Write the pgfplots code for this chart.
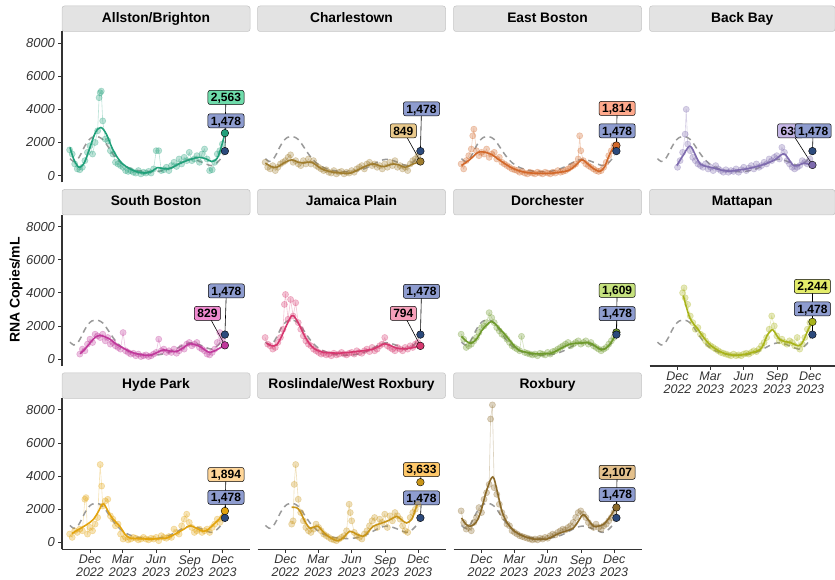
\documentclass[border=0pt]{standalone}
\usepackage{fontspec}
\setmainfont{Liberation Sans}
\usepackage{pgfplots}
\pgfplotsset{compat=1.18}

\definecolor{cAB}{HTML}{21A07A}\definecolor{lAB}{HTML}{6EDBAA}
\definecolor{cCH}{HTML}{A07D2E}\definecolor{lCH}{HTML}{E9C98B}
\definecolor{cEB}{HTML}{D2682A}\definecolor{lEB}{HTML}{FFA98C}
\definecolor{cBB}{HTML}{7E6BAE}\definecolor{lBB}{HTML}{C5B6E6}
\definecolor{cSB}{HTML}{C0399B}\definecolor{lSB}{HTML}{F08AD0}
\definecolor{cJP}{HTML}{D6386F}\definecolor{lJP}{HTML}{F6A0BA}
\definecolor{cDO}{HTML}{6E9A2C}\definecolor{lDO}{HTML}{C6E27E}
\definecolor{cMA}{HTML}{A8B31A}\definecolor{lMA}{HTML}{E3EC6A}
\definecolor{cHP}{HTML}{E2A30D}\definecolor{lHP}{HTML}{FFD699}
\definecolor{cRW}{HTML}{C99518}\definecolor{lRW}{HTML}{FFC869}
\definecolor{cRX}{HTML}{8B6A2A}\definecolor{lRX}{HTML}{E3C08C}
\definecolor{navy}{HTML}{2C4A7C}\definecolor{lnavy}{HTML}{8E9CCF}
\definecolor{dashgray}{HTML}{9A9A9A}
\definecolor{stripfill}{HTML}{E3E3E3}
\definecolor{stripdraw}{HTML}{C4C4C4}
\definecolor{axcol}{HTML}{333333}

\pgfplotsset{
 panel/.style={scale only axis, width=188pt, height=151pt, xmin=-77, xmax=440,
   ymin=-420, ymax=8700, clip=false, anchor=south west, scaled ticks=false,
   tick align=outside, major tick length=3.5pt,
   every tick/.style={axcol, line width=0.8pt},
   x axis line style={-, axcol, line width=1.1pt},
   y axis line style={-, axcol, line width=1.1pt},
   ticklabel style={font=\fontsize{13}{13.5}\selectfont\itshape, text=axcol},
   xtick={0,90,182,274,365},
   xticklabels={{Dec\\2022},{Mar\\2023},{Jun\\2023},{Sep\\2023},{Dec\\2023}},
   xticklabel style={align=center, font=\fontsize{12.5}{12.5}\selectfont\itshape, yshift=1pt},
   ytick={0,2000,4000,6000,8000}, yticklabels={0,2000,4000,6000,8000}},
 nox/.style={axis x line=none, xtick=\empty},
 noy/.style={axis y line=none, ytick=\empty},
 yleft/.style={axis y line*=left},
 xbot/.style={axis x line*=bottom},
 scat/.style={color=#1, line width=0.6pt, draw opacity=0.3, mark=*, mark size=3.1pt,
   mark options={draw=none, fill=#1, fill opacity=0.3}},
 smoothl/.style={color=#1, line width=1.6pt, smooth, tension=0.6, mark=none},
 bos/.style={dashgray, line width=1.5pt, dash pattern=on 6pt off 4.5pt, smooth, mark=none},
 endpt/.style={only marks, mark=*, mark size=3.8pt, mark options={draw=none, fill=#1}},
}
\tikzset{
 lab/.style={draw=black, line width=0.5pt, rounded corners=2pt, fill=#1,
   font=\bfseries\fontsize{12}{12}\selectfont, inner xsep=3pt, inner ysep=2.7pt,
   text height=8.6pt, text depth=0pt},
 seg/.style={black, line width=0.6pt},
}
\newcommand{\bostonline}{\addplot[bos] coordinates {(-55,1020) (-45,850) (-35,950) (-25,1300) (-15,1750) (-5,2100) (5,2300) (15,2360) (25,2320) (35,2180) (45,1900) (57,1500) (70,1100) (85,760) (100,540) (115,400) (130,310) (145,260) (160,235) (175,230) (190,260) (205,330) (220,440) (235,600) (250,780) (265,930) (278,980) (292,930) (306,820) (320,690) (333,600) (345,700) (357,950) (366,1250)};}
% #1 key, #2 value, #3 text, #4 #5 label pos, #6 #7 navy label pos
\newcommand{\finish}[7]{%
 \addplot[endpt=c#1] coordinates {(371,#2)};
 \addplot[endpt=navy] coordinates {(371,1478)};
 \draw[seg] (axis cs:#4,#5) -- (axis cs:371,#2);
 \draw[seg] (axis cs:#6,#7) -- (axis cs:371,1478);
 \node[lab=l#1] at (axis cs:#4,#5) {#3};
 \node[lab=lnavy] at (axis cs:#6,#7) {1,478};
}
\newcommand{\strip}[4]{%
 \draw[fill=stripfill, draw=stripdraw, line width=0.5pt, rounded corners=2.5pt] (#1pt,#2pt) rectangle ++(#3pt,25.5pt);
 \node[anchor=base, font=\bfseries\fontsize{13.8}{14}\selectfont, inner sep=0pt] at (#1pt+#3pt/2, #2pt+9.4pt) {#4};
}

\begin{document}
\begin{tikzpicture}
\useasboundingbox (0,0) rectangle (835pt,579pt);

% ---------- Row 1 ----------
\begin{axis}[panel, at={(62pt,396.5pt)}, nox, yleft]
\addplot[scat=cAB] coordinates {(-56,1550) (-49,1300) (-42,700) (-35,400) (-28,350) (-21,500) (-14,900) (-7,1400) (0,1800) (7,1300) (14,2000) (21,2700) (25,4700) (28,5000) (31,5100) (35,3300) (42,2200) (49,2100) (56,1500) (63,1300) (70,800) (77,700) (84,600) (91,500) (98,300) (105,250) (112,300) (119,200) (126,150) (133,300) (140,100) (147,200) (154,150) (161,250) (168,150) (175,400) (182,1500) (189,1500) (196,300) (203,350) (210,500) (217,300) (224,600) (231,800) (238,550) (245,1000) (252,700) (259,1100) (266,900) (273,1400) (280,900) (287,1000) (294,1200) (301,800) (308,1300) (315,1600) (322,1000) (329,300) (336,350) (343,800) (350,1300) (357,1500) (364,1900) (371,2563)};
\bostonline
\addplot[smoothl=cAB] coordinates {(-55,1700) (-45,1000) (-35,600) (-28,500) (-15,800) (0,1700) (15,2600) (30,2900) (45,2500) (60,1700) (75,1100) (90,700) (110,400) (130,220) (150,150) (170,250) (185,480) (200,420) (220,420) (240,650) (260,850) (280,1000) (300,1100) (320,1000) (335,850) (350,1050) (362,1800) (371,2563)};
\finish{AB}{2563}{2,563}{374}{4717}{374}{3308}
\end{axis}

\begin{axis}[panel, at={(257.5pt,396.5pt)}, hide axis]
\addplot[scat=cCH] coordinates {(-56,800) (-49,500) (-42,400) (-35,600) (-28,300) (-21,500) (-14,700) (-7,800) (0,900) (7,1100) (14,1250) (21,800) (28,900) (35,700) (42,600) (49,900) (56,700) (63,1000) (70,700) (77,900) (84,600) (91,500) (98,400) (105,300) (112,350) (119,200) (126,150) (133,300) (140,100) (147,200) (154,250) (161,100) (168,200) (175,150) (182,300) (189,200) (196,400) (203,500) (210,600) (217,400) (224,700) (231,800) (238,600) (245,700) (252,500) (259,600) (266,400) (273,700) (280,500) (287,800) (294,600) (301,900) (308,500) (315,600) (322,400) (329,500) (336,300) (343,700) (350,900) (357,1000) (364,1200) (371,849)};
\bostonline
\addplot[smoothl=cCH] coordinates {(-55,750) (-40,550) (-24,500) (-5,750) (17,950) (35,800) (50,760) (72,800) (100,400) (131,200) (155,150) (177,140) (195,300) (214,500) (241,700) (269,540) (296,700) (315,620) (329,500) (351,700) (371,849)};
\finish{CH}{849}{849}{324}{2703}{374}{4033}
\end{axis}

\begin{axis}[panel, at={(453.5pt,396.5pt)}, hide axis]
\addplot[scat=cEB] coordinates {(-56,700) (-49,400) (-42,900) (-35,1200) (-28,1600) (-24,2400) (-21,2800) (-14,1500) (-7,1200) (0,1400) (7,1300) (14,1600) (21,1100) (28,1300) (35,1400) (42,1000) (49,1100) (56,800) (63,700) (70,600) (77,500) (84,400) (91,350) (98,300) (105,200) (112,250) (119,150) (126,100) (133,200) (140,150) (147,100) (154,200) (161,150) (168,100) (175,200) (182,150) (189,100) (196,200) (203,150) (210,300) (217,200) (224,250) (231,300) (238,400) (245,500) (252,600) (259,700) (266,1000) (270,2400) (273,1500) (280,900) (287,700) (294,600) (301,500) (308,400) (315,300) (322,250) (329,300) (336,500) (343,800) (350,1200) (357,1500) (364,1800) (371,1814)};
\bostonline
\addplot[smoothl=cEB] coordinates {(-55,605) (-30,1000) (-9,1410) (10,1400) (28,1270) (45,1000) (65,705) (80,500) (101,302) (125,180) (147,141) (170,130) (193,141) (215,200) (239,302) (258,600) (276,947) (290,750) (303,500) (315,330) (326,260) (338,500) (349,1100) (360,1600) (371,1814)};
\finish{EB}{1814}{1,814}{373}{4052}{373}{2703}
\end{axis}

\begin{axis}[panel, at={(649.5pt,396.5pt)}, width=185.5pt, xmax=433, hide axis]
\addplot[scat=cBB] coordinates {(0,500) (7,900) (14,1400) (21,2500) (24,4000) (28,1900) (35,1500) (42,1100) (49,900) (56,700) (63,600) (70,500) (77,700) (84,400) (91,500) (98,300) (105,600) (112,400) (119,300) (126,200) (133,350) (140,200) (147,300) (154,250) (161,400) (168,200) (175,350) (182,500) (189,300) (196,450) (203,600) (210,400) (217,700) (224,500) (231,600) (238,800) (245,700) (252,1000) (259,900) (266,1100) (273,1200) (280,1000) (287,1700) (294,1400) (301,900) (308,700) (315,500) (322,400) (329,500) (336,600) (343,900) (350,800) (357,700) (364,1000) (371,638)};
\bostonline
\addplot[smoothl=cBB] coordinates {(-2,605) (15,1200) (34,1773) (50,1200) (62,705) (80,550) (98,463) (120,330) (144,262) (165,330) (190,403) (227,600) (264,907) (291,1310) (305,1000) (319,605) (333,620) (346,745) (360,700) (371,638)};
\finish{BB}{638}{638}{311}{2703}{373}{2703}
\end{axis}

% ---------- Row 2 ----------
\begin{axis}[panel, at={(62pt,213pt)}, nox, yleft]
\addplot[scat=cSB] coordinates {(-28,300) (-21,600) (-14,500) (-7,900) (0,1200) (7,1000) (14,1500) (21,1400) (28,1300) (35,1500) (42,1100) (49,1300) (56,900) (63,1000) (70,800) (77,700) (84,600) (91,1600) (98,500) (105,400) (112,300) (119,350) (126,200) (133,300) (140,150) (147,200) (154,250) (161,150) (168,200) (175,300) (182,400) (189,1200) (196,500) (203,600) (210,400) (217,500) (224,400) (231,600) (238,350) (245,500) (252,700) (259,600) (266,900) (273,1000) (280,800) (287,900) (294,1000) (301,700) (308,600) (315,500) (322,300) (329,250) (336,400) (343,600) (350,1000) (357,1600) (364,1200) (371,829)};
\bostonline
\addplot[smoothl=cSB] coordinates {(-27,320) (-12,650) (0,967) (14,1300) (27,1427) (40,1350) (55,1200) (72,900) (92,655) (110,450) (128,320) (145,250) (165,220) (185,400) (202,554) (220,480) (238,454) (258,700) (275,920) (302,760) (318,520) (330,400) (348,550) (360,700) (371,829)};
\finish{SB}{829}{829}{323}{2757}{375}{4112}
\end{axis}

\begin{axis}[panel, at={(257.5pt,213pt)}, hide axis]
\addplot[scat=cJP] coordinates {(-56,1300) (-49,900) (-42,800) (-35,600) (-28,700) (-21,1000) (-14,1300) (-7,1800) (-3,3300) (0,3900) (7,2400) (14,3600) (21,2600) (28,3400) (35,2200) (42,1800) (49,1400) (56,1100) (63,900) (70,800) (77,600) (84,500) (91,400) (98,300) (105,350) (112,250) (119,300) (126,200) (133,350) (140,250) (147,300) (154,400) (161,300) (168,250) (175,350) (182,400) (189,300) (196,500) (203,400) (210,350) (217,500) (224,600) (231,450) (238,700) (245,500) (252,600) (259,800) (266,900) (273,1300) (280,800) (287,700) (294,600) (301,500) (308,700) (315,600) (322,500) (329,700) (336,600) (343,800) (350,700) (357,900) (364,1000) (371,794)};
\bostonline
\addplot[smoothl=cJP] coordinates {(-52,967) (-38,800) (-24,866) (-10,1400) (0,1900) (17,2618) (28,2450) (40,1975) (55,1300) (72,765) (88,520) (104,400) (125,370) (150,360) (173,400) (196,460) (220,520) (241,600) (258,780) (273,920) (290,800) (306,660) (325,620) (343,660) (358,720) (371,794)};
\finish{JP}{794}{794}{324}{2757}{374}{4088}
\end{axis}

\begin{axis}[panel, at={(453.5pt,213pt)}, hide axis]
\addplot[scat=cDO] coordinates {(-56,1500) (-49,1200) (-42,700) (-35,800) (-28,900) (-21,1100) (-14,1300) (-7,1600) (0,1900) (7,2000) (14,2200) (21,2800) (28,2500) (35,2200) (42,1900) (49,1700) (56,1500) (63,1400) (70,1200) (77,1000) (84,800) (91,700) (98,600) (105,500) (110,1370) (119,400) (126,350) (133,300) (140,250) (147,300) (154,200) (161,350) (168,300) (175,250) (182,400) (189,300) (196,450) (203,500) (210,600) (217,700) (224,800) (231,900) (238,1000) (245,800) (252,900) (259,1000) (266,1100) (273,900) (280,1000) (287,1100) (294,900) (301,1000) (308,800) (315,700) (322,600) (329,500) (336,600) (343,700) (350,900) (357,1100) (364,1300) (371,1609)};
\bostonline
\addplot[smoothl=cDO] coordinates {(-55,1370) (-40,1050) (-27,967) (-12,1250) (0,1700) (14,2050) (28,2270) (45,1950) (65,1465) (82,1000) (101,560) (125,400) (147,320) (170,320) (193,360) (215,600) (239,865) (257,950) (276,967) (290,1000) (303,930) (318,700) (330,560) (342,650) (353,900) (362,1200) (371,1609)};
\finish{DO}{1609}{1,609}{373}{4148}{373}{2739}
\end{axis}

\begin{axis}[panel, at={(649.5pt,213pt)}, width=185.5pt, xmax=433, xbot, noy]
\addplot[scat=cMA] coordinates {(14,4000) (18,4300) (21,3700) (28,3300) (35,2600) (42,2200) (49,1800) (56,1900) (63,1500) (70,1400) (77,1100) (84,900) (91,800) (98,700) (105,600) (112,500) (119,400) (126,350) (133,300) (140,250) (147,200) (154,300) (161,200) (168,250) (175,200) (182,300) (189,350) (196,300) (203,400) (210,500) (217,450) (224,600) (231,800) (238,1000) (245,1300) (252,1800) (259,2600) (266,2000) (273,1400) (280,1100) (287,1200) (294,1000) (301,900) (308,1100) (315,1000) (322,800) (329,1300) (336,600) (343,900) (350,1300) (357,1800) (364,2200) (371,2244)};
\bostonline
\addplot[smoothl=cMA] coordinates {(16,3828) (25,3100) (34,2479) (45,2100) (57,1774) (72,1300) (89,867) (107,580) (126,363) (145,260) (162,222) (180,260) (199,363) (215,450) (227,565) (237,900) (245,1371) (254,1650) (262,1774) (272,1450) (282,1170) (295,1050) (309,1009) (320,900) (332,807) (342,950) (350,1300) (360,1800) (371,2244)};
\finish{MA}{2244}{2,244}{371}{4390}{371}{3023}
\end{axis}

% ---------- Row 3 ----------
\begin{axis}[panel, at={(62pt,29.7pt)}, xbot, yleft]
\addplot[scat=cHP] coordinates {(-56,500) (-49,300) (-42,700) (-35,600) (-28,800) (-21,700) (-14,2600) (-11,2700) (-7,500) (0,900) (7,700) (14,1100) (21,1500) (28,4700) (32,3400) (35,2200) (42,2500) (49,2600) (56,1600) (63,1400) (70,1000) (77,1100) (84,500) (91,200) (98,300) (105,150) (112,200) (119,300) (126,250) (133,150) (140,200) (147,300) (154,200) (161,150) (168,250) (175,200) (182,300) (189,100) (196,400) (203,300) (210,250) (217,350) (224,300) (231,800) (238,600) (245,500) (252,1000) (259,1400) (266,1700) (273,1200) (280,900) (287,600) (294,700) (301,800) (308,600) (315,700) (322,800) (329,600) (336,900) (343,1100) (350,1400) (357,1200) (364,1500) (371,1894)};
\bostonline
\addplot[smoothl=cHP] coordinates {(-50,526) (-30,800) (-9,1070) (10,1400) (24,1900) (36,2320) (48,1950) (60,1500) (82,968) (96,500) (110,262) (135,220) (165,200) (190,220) (211,262) (230,450) (248,665) (262,850) (275,1008) (293,850) (312,665) (326,800) (339,1070) (355,1400) (371,1894)};
\finish{HP}{1894}{1,894}{374}{4094}{374}{2721}
\end{axis}

\begin{axis}[panel, at={(257.5pt,29.7pt)}, xbot, noy]
\addplot[scat=cRW] coordinates {(17,1100) (21,1300) (24,3500) (28,4700) (35,2600) (42,1800) (49,1300) (56,900) (63,700) (70,600) (77,800) (84,1100) (91,900) (98,700) (105,500) (112,400) (119,300) (126,200) (133,150) (140,100) (147,200) (154,300) (161,400) (168,700) (175,2300) (178,1800) (182,1300) (189,600) (196,400) (203,300) (210,200) (217,500) (224,700) (231,1000) (238,1300) (245,1500) (252,900) (259,1400) (266,1200) (273,1700) (280,900) (287,1600) (294,1300) (301,1800) (308,1600) (315,1400) (322,1000) (329,700) (336,600) (343,1500) (350,1800) (357,2000) (364,2300)};
\bostonline
\addplot[smoothl=cRW] coordinates {(17,2117) (30,2100) (40,1875) (55,1200) (67,867) (78,920) (90,967) (105,600) (118,363) (132,180) (145,100) (160,300) (177,665) (195,500) (214,363) (228,650) (241,967) (260,1130) (278,1270) (292,1420) (306,1572) (320,1350) (333,1170) (347,1400) (356,1900) (362,2280)};
\finish{RW}{3633}{3,633}{374}{4396}{374}{2685}
\end{axis}

\begin{axis}[panel, at={(453.5pt,29.7pt)}, xbot, noy]
\addplot[scat=cRX] coordinates {(-56,1900) (-49,1200) (-42,800) (-35,900) (-28,700) (-21,1200) (-14,1500) (-7,2100) (0,1800) (7,2600) (14,3000) (21,3500) (25,7450) (30,8300) (35,3300) (42,2900) (49,2300) (56,1800) (63,1500) (70,1100) (77,1000) (84,700) (91,600) (98,500) (105,400) (112,350) (119,300) (126,250) (133,200) (140,150) (147,200) (154,150) (161,250) (168,200) (175,300) (182,250) (189,400) (196,500) (203,450) (210,600) (217,700) (224,800) (231,750) (238,900) (245,1000) (252,1200) (259,1500) (266,1800) (273,1900) (280,1700) (287,1500) (294,1200) (301,1000) (308,900) (315,1100) (322,900) (329,800) (336,1000) (343,1100) (350,1300) (357,1500) (364,1800) (371,2107)};
\bostonline
\addplot[smoothl=cRX] coordinates {(-55,1474) (-43,1100) (-32,970) (-20,1100) (-10,1400) (0,2000) (15,3200) (31,3953) (43,3100) (55,1980) (66,1350) (78,970) (92,650) (106,465) (125,300) (143,200) (160,190) (180,200) (198,380) (216,565) (235,700) (253,870) (267,1300) (280,1673) (294,1350) (308,970) (322,980) (335,1070) (352,1500) (369,2107)};
\finish{RX}{2107}{2,107}{373}{4233}{373}{2884}
\end{axis}

% ---------- Strips ----------
\strip{62}{547.5}{188}{Allston/Brighton}
\strip{257.5}{547.5}{188}{Charlestown}
\strip{453.5}{547.5}{188}{East Boston}
\strip{649.5}{547.5}{185.5}{Back Bay}
\strip{62}{364}{188}{South Boston}
\strip{257.5}{364}{188}{Jamaica Plain}
\strip{453.5}{364}{188}{Dorchester}
\strip{649.5}{364}{185.5}{Mattapan}
\strip{62}{180.7}{188}{Hyde Park}
\strip{257.5}{180.7}{188}{Roslindale/West Roxbury}
\strip{453.5}{180.7}{188}{Roxbury}

\node[rotate=90, font=\bfseries\fontsize{14}{14}\selectfont] at (16pt,289pt) {RNA Copies/mL};
\end{tikzpicture}
\end{document}
